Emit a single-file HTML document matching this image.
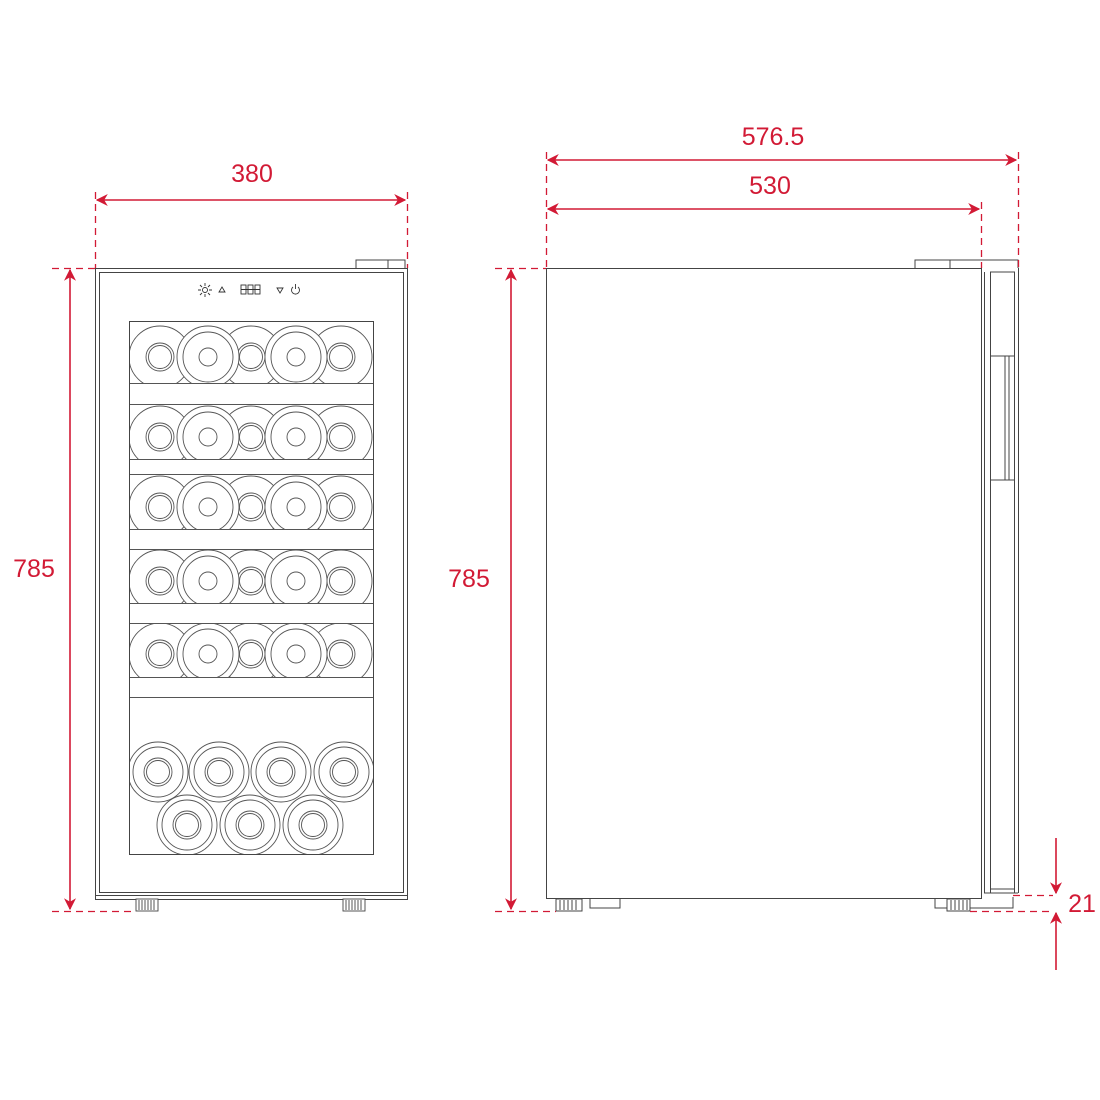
<!DOCTYPE html>
<html><head><meta charset="utf-8"><style>
html,body{margin:0;padding:0;background:#fff;width:1100px;height:1100px;overflow:hidden}
svg{display:block}
.t{font-family:"Liberation Sans",sans-serif;font-size:25px;fill:#d21a35}
</style></head><body>
<svg width="1100" height="1100" viewBox="0 0 1100 1100" xmlns="http://www.w3.org/2000/svg">
<defs>
<marker id="ar" viewBox="0 0 10 10" refX="9" refY="5" markerWidth="12" markerHeight="12" orient="auto-start-reverse" markerUnits="userSpaceOnUse"><path d="M0,0 L10,5 L0,10 L3,5 z" fill="#d21a35"/></marker>
<g id="sb"><circle r="31" fill="#fff" stroke="#555" stroke-width="0.9"/><circle r="14" fill="none" stroke="#555" stroke-width="0.9"/><circle r="11.5" fill="none" stroke="#555" stroke-width="0.9"/></g>
<g id="bb"><circle r="31" fill="#fff" stroke="#555" stroke-width="0.9"/><circle r="25" fill="none" stroke="#555" stroke-width="0.9"/><circle r="9" fill="none" stroke="#555" stroke-width="0.9"/></g>
<g id="row">
<use href="#sb" x="160"/><use href="#sb" x="251"/><use href="#sb" x="341"/>
<use href="#bb" x="208"/><use href="#bb" x="296"/>
</g>
<g id="lb"><circle r="30" fill="#fff" stroke="#555" stroke-width="0.9"/><circle r="25" fill="none" stroke="#555" stroke-width="0.9"/><circle r="14" fill="none" stroke="#555" stroke-width="0.9"/><circle r="11.5" fill="none" stroke="#555" stroke-width="0.9"/></g>
<clipPath id="win"><rect x="129" y="321" width="244" height="533"/></clipPath>
<clipPath id="r1"><rect x="129" y="321" width="244" height="62"/></clipPath>
<clipPath id="r2"><rect x="129" y="405" width="244" height="54"/></clipPath>
<clipPath id="r3"><rect x="129" y="474" width="244" height="55"/></clipPath>
<clipPath id="r4"><rect x="129" y="549" width="244" height="54"/></clipPath>
<clipPath id="r5"><rect x="129" y="623" width="244" height="54"/></clipPath>
</defs>

<g fill="none" stroke="#444" stroke-width="1">
<rect x="95.5" y="268.5" width="312" height="631"/>
<rect x="99.5" y="272.5" width="304" height="620"/>
<line x1="95" y1="895.5" x2="407" y2="895.5"/>
<path d="M356,268 V260 H405 V268 M388,260 V268"/>
<rect x="129.5" y="321.5" width="244" height="533"/>
</g>
<g clip-path="url(#r1)"><use href="#row" y="357"/></g>
<g clip-path="url(#r2)"><use href="#row" y="437"/></g>
<g clip-path="url(#r3)"><use href="#row" y="507"/></g>
<g clip-path="url(#r4)"><use href="#row" y="581"/></g>
<g clip-path="url(#r5)"><use href="#row" y="654"/></g>
<g fill="none" stroke="#555" stroke-width="1">
<path d="M129,383.5H373M129,404.5H373M129,459.5H373M129,474.5H373M129,529.5H373M129,549.5H373M129,603.5H373M129,623.5H373M129,677.5H373M129,697.5H373"/>
</g>
<g clip-path="url(#win)">
<use href="#lb" x="158" y="772"/><use href="#lb" x="219" y="772"/><use href="#lb" x="281" y="772"/><use href="#lb" x="344" y="772"/>
<use href="#lb" x="187" y="825"/><use href="#lb" x="250" y="825"/><use href="#lb" x="313" y="825"/>
</g>
<rect x="129.5" y="321.5" width="244" height="533" fill="none" stroke="#444"/>
<g fill="none" stroke="#333" stroke-width="0.9">
<circle cx="205" cy="290" r="2.5"/>
<path d="M198,290h3M209,290h3M205,283v3M205,294v3M200,285l2,2M208,293l2,2M210,285l-2,2M200,295l2,-2"/>
<path d="M222,287l3,5h-6z"/>
<rect x="241" y="285" width="5" height="9"/><rect x="248" y="285" width="5" height="9"/><rect x="255" y="285" width="5" height="9"/>
<path d="M241,289.5h19"/>
<path d="M277,288h6l-3,5z"/>
<path d="M293,287a4,4 0 1 0 5,0M295.5,284v5"/>
</g>
<g fill="#fff" stroke="#444" stroke-width="0.9">
<rect x="136" y="899" width="22" height="12"/>
<rect x="343" y="899" width="22" height="12"/>
<path d="M139,900v10M142,900v10M145,900v10M148,900v10M151,900v10M154,900v10M346,900v10M349,900v10M352,900v10M355,900v10M358,900v10M361,900v10"/>
</g>

<g fill="none" stroke="#444" stroke-width="1">
<rect x="546.5" y="268.5" width="435" height="630"/>
<path d="M915,268V260H1018V268M950,260V268"/>
<path d="M984.5,272V893M990.5,272V893M1014.5,272V893M1018.5,268V893"/>
<path d="M990,272H1015M990,356H1015M990,480H1015M1005,356V480M1009,356V480"/>
<path d="M984,893H1018M990,889H1015"/>
<rect x="556" y="899" width="26" height="12" fill="#fff"/>
<path d="M560,900v10M564,900v10M568,900v10M572,900v10M576,900v10"/>
<path d="M590,899v9h30v-9"/>
<path d="M650,898.5H668"/>
<rect x="947" y="899" width="23" height="12" fill="#fff"/>
<path d="M951,900v10M955,900v10M959,900v10M963,900v10M967,900v10"/>
<path d="M935,899v9h12M970,908H1013V897"/>
</g>

<g stroke="#d21a35" stroke-width="1.6" fill="none">
<line x1="97" y1="200" x2="405" y2="200" marker-start="url(#ar)" marker-end="url(#ar)"/>
<line x1="70" y1="270" x2="70" y2="909" marker-start="url(#ar)" marker-end="url(#ar)"/>
<line x1="548" y1="160" x2="1016" y2="160" marker-start="url(#ar)" marker-end="url(#ar)"/>
<line x1="548" y1="209" x2="979" y2="209" marker-start="url(#ar)" marker-end="url(#ar)"/>
<line x1="511" y1="270" x2="511" y2="909" marker-start="url(#ar)" marker-end="url(#ar)"/>
<line x1="1056" y1="838" x2="1056" y2="893" marker-end="url(#ar)"/>
<line x1="1056" y1="970" x2="1056" y2="913" marker-end="url(#ar)"/>
</g>
<g stroke="#d21a35" stroke-width="1.3" stroke-dasharray="7,5" fill="none">
<line x1="95.5" y1="192" x2="95.5" y2="268"/>
<line x1="407.5" y1="192" x2="407.5" y2="268"/>
<line x1="52" y1="268.5" x2="95" y2="268.5"/>
<line x1="52" y1="911.5" x2="136" y2="911.5"/>
<line x1="546.5" y1="152" x2="546.5" y2="268"/>
<line x1="981.5" y1="202" x2="981.5" y2="268"/>
<line x1="1018.5" y1="152" x2="1018.5" y2="268"/>
<line x1="495" y1="268.5" x2="546" y2="268.5"/>
<line x1="495" y1="911.5" x2="556" y2="911.5"/>
<line x1="1013" y1="895.5" x2="1053" y2="895.5"/>
<line x1="970" y1="911.5" x2="1053" y2="911.5"/>
</g>
<text class="t" x="252" y="182" text-anchor="middle">380</text>
<text class="t" x="34" y="577" text-anchor="middle">785</text>
<text class="t" x="773" y="145" text-anchor="middle">576.5</text>
<text class="t" x="770" y="194" text-anchor="middle">530</text>
<text class="t" x="469" y="587" text-anchor="middle">785</text>
<text class="t" x="1082" y="912" text-anchor="middle">21</text>
</svg>
</body></html>
